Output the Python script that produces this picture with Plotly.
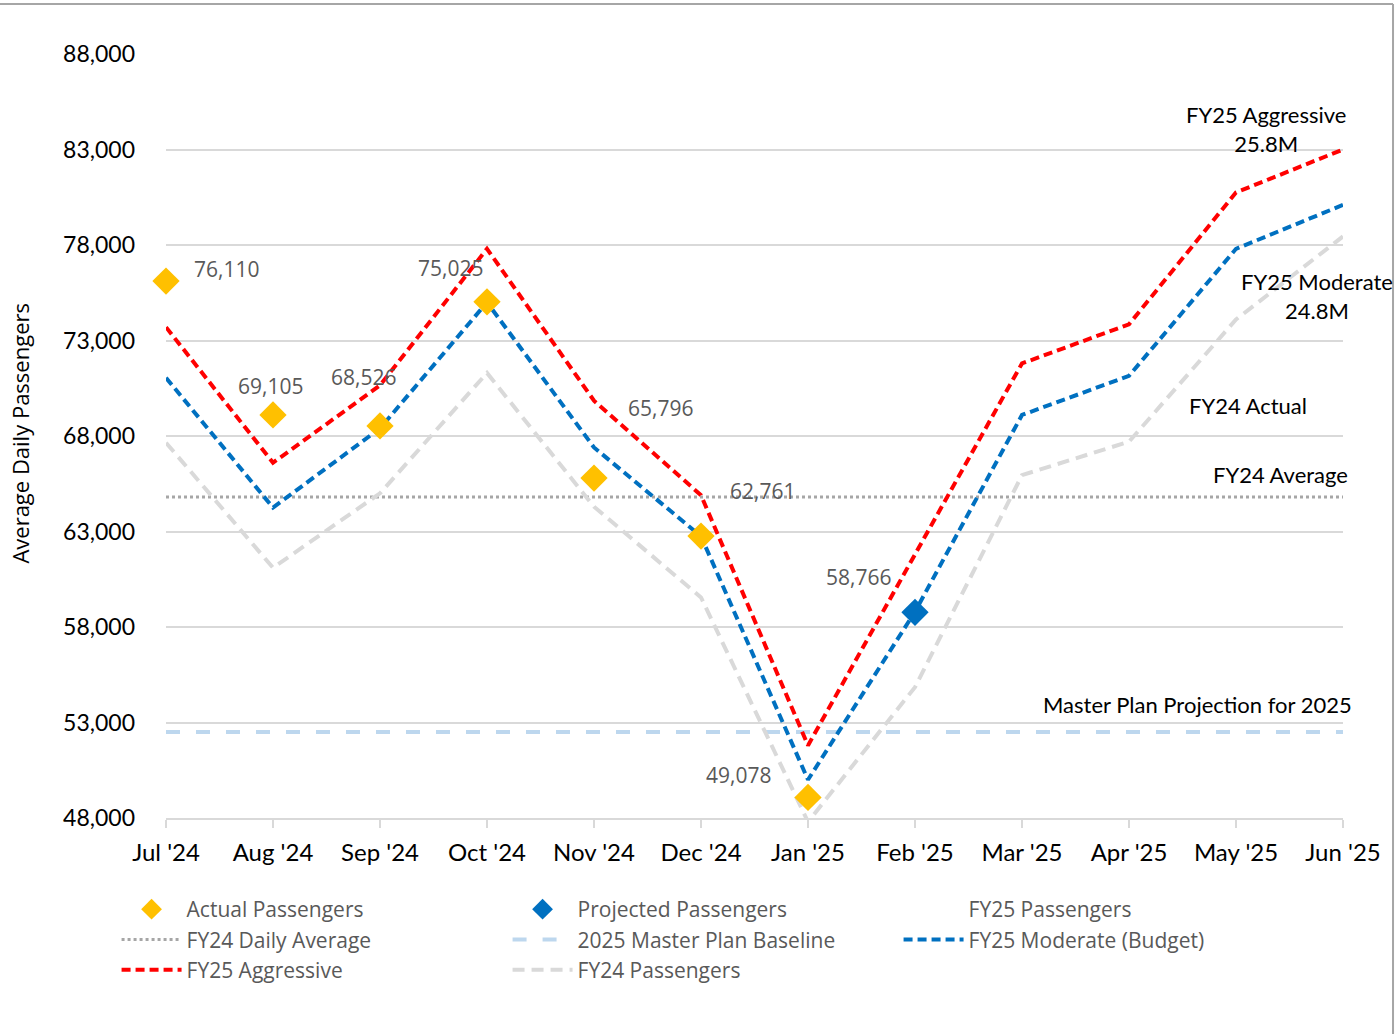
import plotly.graph_objects as go

months = ["Jul '24", "Aug '24", "Sep '24", "Oct '24", "Nov '24", "Dec '24",
          "Jan '25", "Feb '25", "Mar '25", "Apr '25", "May '25", "Jun '25"]
actual = [76110, 69105, 68526, 75025, 65796, 62761, 49078, None, None, None, None, None]
projected = [None, None, None, None, None, None, None, 58766, None, None, None, None]
aggressive = [73700, 66600, 70650, 77800, 69850, 64900, 51800, 61800, 71800, 73850, 80750, 83000]
moderate = [71050, 64250, 68400, 75000, 67400, 62750, 50000, 58800, 69100, 71150, 77800, 80100]
fy24 = [67650, 61100, 65000, 71300, 64300, 59550, 47800, 54850, 65950, 67700, 74100, 78450]
fy24_avg = 64800
master_plan = 52500
y_ticks = [48000, 53000, 58000, 63000, 68000, 73000, 78000, 83000, 88000]

# label offsets (px) for data labels, in month order for the labelled points
label_shift = {0: (60, 12), 1: (-3, 29), 2: (-17, 49), 3: (-37, 34), 4: (66, 70),
               5: (61, 45), 6: (-70, 22), 7: (-57, 35)}

CAL = "Lato, 'Liberation Sans', sans-serif"
SEG = "'Open Sans', 'Noto Sans', sans-serif"

fig = go.Figure()

fig.add_trace(go.Scatter(x=months, y=[fy24_avg] * len(months), mode="lines",
                         name="FY24 Daily Average", legendrank=4,
                         line=dict(color="#A6A6A6", width=3, dash="dot")))
fig.add_trace(go.Scatter(x=months, y=[master_plan] * len(months), mode="lines",
                         name="2025 Master Plan Baseline", legendrank=5,
                         line=dict(color="#BDD7EE", width=4, dash="14px,16px")))
fig.add_trace(go.Scatter(x=months, y=fy24, mode="lines", name="FY24 Passengers", legendrank=8,
                         line=dict(color="#D9D9D9", width=4, dash="12px,7px")))
fig.add_trace(go.Scatter(x=months, y=moderate, mode="lines", name="FY25 Moderate (Budget)", legendrank=6,
                         line=dict(color="#0070C0", width=4, dash="9px,5px")))
fig.add_trace(go.Scatter(x=months, y=aggressive, mode="lines", name="FY25 Aggressive", legendrank=7,
                         line=dict(color="#FF0000", width=4, dash="9px,5px")))
fig.add_trace(go.Scatter(x=[months[0]], y=[None], mode="markers", name="FY25 Passengers", legendrank=3,
                         marker=dict(color="rgba(0,0,0,0)", size=1)))
fig.add_trace(go.Scatter(x=months, y=actual, mode="markers", name="Actual Passengers", legendrank=1,
                         cliponaxis=False,
                         marker=dict(symbol="diamond", color="#FFC000", size=21)))
fig.add_trace(go.Scatter(x=months, y=projected, mode="markers", name="Projected Passengers", legendrank=2,
                         cliponaxis=False,
                         marker=dict(symbol="diamond", color="#0070C0", size=21)))

annotations = []
for i, m in enumerate(months):
    v = actual[i] if actual[i] is not None else projected[i]
    if v is None:
        continue
    dx, dy = label_shift[i]
    annotations.append(dict(x=m, y=v, xref="x", yref="y", text=f"{v:,}", showarrow=False,
                            xshift=dx, yshift=dy, font=dict(family=SEG, size=21, color="#595959")))

side_labels = [
    ("FY25 Aggressive<br>25.8M", 0.9346, 0.9018),
    ("FY25 Moderate<br>24.8M", 0.9779, 0.6831),
    ("FY24 Actual", 0.9193, 0.5404),
    ("FY24 Average", 0.9465, 0.4501),
    ("Master Plan Projection for 2025", 0.8760, 0.1489),
]
for txt, xp, yp in side_labels:
    annotations.append(dict(x=xp, y=yp, xref="paper", yref="paper", text=txt, showarrow=False,
                            align="center", xanchor="center", yanchor="middle",
                            font=dict(family=CAL, size=22, color="#000000")))

annotations.append(dict(x=-0.124, y=0.5032, xref="paper", yref="paper", text="Average Daily Passengers",
                        showarrow=False, textangle=-90, xanchor="center", yanchor="middle",
                        font=dict(family=SEG, size=22, color="#000000")))

shapes = [
    dict(type="line", xref="paper", yref="paper", x0=-0.15, x1=1.0425, y0=1.0655, y1=1.0655,
         line=dict(color="#A6A6A6", width=2)),
    dict(type="line", xref="paper", yref="paper", x0=1.0425, x1=1.0425, y0=1.0655, y1=-0.30,
         line=dict(color="#A6A6A6", width=2)),
]

fig.update_layout(
    width=1395, height=1034,
    margin=dict(l=166, r=52, t=54, b=216),
    paper_bgcolor="white", plot_bgcolor="white",
    showlegend=True,
    legend=dict(orientation="h", x=-0.042, y=-0.093, xanchor="left", yanchor="top",
                entrywidth=316, entrywidthmode="pixels", itemwidth=60, traceorder="normal",
                font=dict(family=SEG, size=21, color="#595959"), tracegroupgap=0,
                bgcolor="rgba(0,0,0,0)"),
    annotations=annotations,
    shapes=shapes,
)

fig.update_xaxes(type="category", range=[0, len(months) - 1], showgrid=False,
                 showline=True, linecolor="#D9D9D9", linewidth=2,
                 ticks="outside", ticklen=8, tickcolor="#D9D9D9", tickwidth=2,
                 ticklabelstandoff=4,
                 tickfont=dict(family=CAL, size=24, color="#000000"))
fig.update_yaxes(range=[48000, 88000], tickvals=y_ticks, tickformat=",d",
                 showgrid=True, gridcolor="#D9D9D9", gridwidth=2, zeroline=False,
                 ticklabelstandoff=30,
                 tickfont=dict(family=CAL, size=23, color="#000000"))

fig.write_html("out.html", config={"displayModeBar": False},
               post_script="document.body.style.margin='0';document.body.style.overflow='hidden';")
